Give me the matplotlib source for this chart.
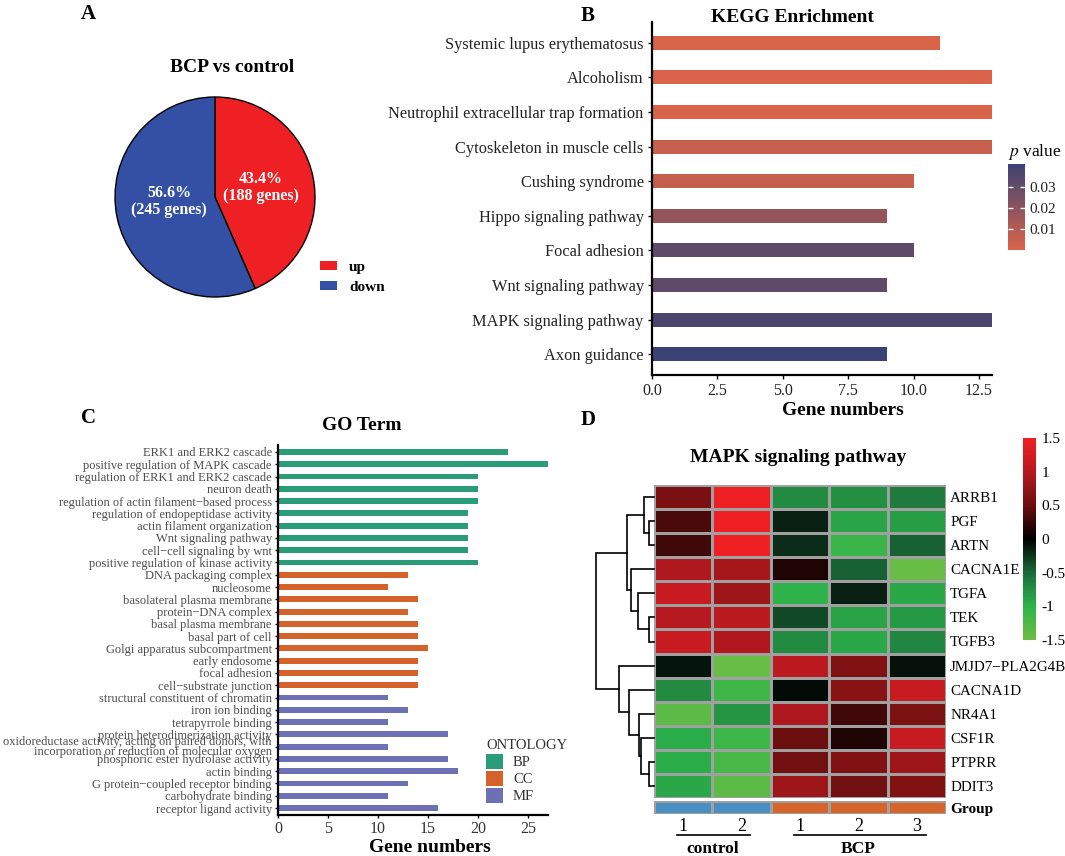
import numpy as np
import matplotlib
matplotlib.use('Agg')
import matplotlib.pyplot as plt
from matplotlib.colors import LinearSegmentedColormap, ListedColormap, Normalize
from matplotlib.patches import Patch
from matplotlib.transforms import blended_transform_factory
import matplotlib.cm as cm

plt.rcParams['font.family'] = ['Liberation Serif', 'DejaVu Serif']
plt.rcParams['mathtext.fontset'] = 'stix'

# ---------------- data ----------------
pie_labels = ['up', 'down']
pie_counts = [188, 245]
pie_colors = ['#EE2024', '#3450A4']

kegg_terms = ['Systemic lupus erythematosus', 'Alcoholism',
              'Neutrophil extracellular trap formation', 'Cytoskeleton in muscle cells',
              'Cushing syndrome', 'Hippo signaling pathway', 'Focal adhesion',
              'Wnt signaling pathway', 'MAPK signaling pathway', 'Axon guidance']
kegg_counts = [11, 13, 13, 13, 10, 9, 10, 9, 13, 9]
kegg_p = [0.0004, 0.0005, 0.0006, 0.005, 0.0055, 0.018, 0.031, 0.031, 0.036, 0.0405]

go_terms = ['ERK1 and ERK2 cascade', 'positive regulation of MAPK cascade',
            'regulation of ERK1 and ERK2 cascade', 'neuron death',
            'regulation of actin filament\u2212based process',
            'regulation of endopeptidase activity', 'actin filament organization',
            'Wnt signaling pathway', 'cell\u2212cell signaling by wnt',
            'positive regulation of kinase activity',
            'DNA packaging complex', 'nucleosome', 'basolateral plasma membrane',
            'protein\u2212DNA complex', 'basal plasma membrane', 'basal part of cell',
            'Golgi apparatus subcompartment', 'early endosome', 'focal adhesion',
            'cell\u2212substrate junction',
            'structural constituent of chromatin', 'iron ion binding',
            'tetrapyrrole binding', 'protein heterodimerization activity',
            'oxidoreductase activity, acting on paired donors, with\nincorporation or reduction of molecular oxygen',
            'phosphoric ester hydrolase activity', 'actin binding',
            'G protein\u2212coupled receptor binding', 'carbohydrate binding',
            'receptor ligand activity']
go_counts = [23, 27, 20, 20, 20, 19, 19, 19, 19, 20,
             13, 11, 14, 13, 14, 14, 15, 14, 14, 14,
             11, 13, 11, 17, 11, 17, 18, 13, 11, 16]
go_ont = ['BP'] * 10 + ['CC'] * 10 + ['MF'] * 10
ont_names = ['BP', 'CC', 'MF']
ont_colors = ['#2A9D78', '#D5622A', '#6E70B5']

genes = ['ARRB1', 'PGF', 'ARTN', 'CACNA1E', 'TGFA', 'TEK', 'TGFB3',
         'JMJD7\u2212PLA2G4B', 'CACNA1D', 'NR4A1', 'CSF1R', 'PTPRR', 'DDIT3']
sample_ids = ['1', '2', '1', '2', '3']
sample_group = ['control', 'control', 'BCP', 'BCP', 'BCP']
group_names = ['control', 'BCP']
group_colors = ['#4A8FC1', '#D6652B']
expr = np.array([
    [0.60, 1.50, -0.72, -0.75, -0.60],
    [0.35, 1.50, -0.15, -0.90, -0.85],
    [0.30, 1.50, -0.20, -1.10, -0.45],
    [0.95, 0.90, 0.15, -0.45, -1.45],
    [1.15, 0.85, -1.00, -0.15, -0.92],
    [1.00, 1.05, -0.35, -0.88, -0.82],
    [1.15, 0.95, -0.72, -0.92, -0.68],
    [-0.10, -1.45, 1.05, 0.65, -0.08],
    [-0.72, -1.15, -0.05, 0.70, 1.15],
    [-1.35, -0.78, 0.95, 0.30, 0.62],
    [-0.95, -1.12, 0.50, 0.15, 1.15],
    [-0.95, -1.20, 0.55, 0.65, 0.85],
    [-0.92, -1.35, 0.85, 0.55, 0.65],
])
# row dendrogram linkage (leaves 0..12 in display order, new clusters 13..)
linkage = [
    (1, 2, 0.94), (0, 13, 1.9), (5, 6, 0.94), (4, 15, 3.0), (3, 16, 4.3),
    (14, 17, 5.1), (11, 12, 0.94), (10, 19, 2.4), (9, 20, 2.8), (8, 21, 4.7),
    (7, 22, 6.6), (18, 23, 10.9),
]

# ---------------- figure ----------------
W, H = 1065, 856
fig = plt.figure(figsize=(W / 100, H / 100), dpi=100)


def add_ax(l, t, r, b):
    return fig.add_axes([l / W, 1 - b / H, (r - l) / W, (b - t) / H])


def ftext(x, y, s, **kw):
    kw.setdefault('ha', 'center')
    kw.setdefault('va', 'center')
    return fig.text(x / W, 1 - y / H, s, **kw)


# panel letters
for letter, (x, y) in zip('ABCD', [(88, 14), (588, 16), (88, 418), (588, 420)]):
    ftext(x, y, letter, fontsize=15, fontweight='bold')

# ---------------- A: pie ----------------
axA = add_ax(113, 95, 317, 299)
total = sum(pie_counts)
wedges, _, autotexts = axA.pie(
    pie_counts, colors=pie_colors, startangle=90, counterclock=False,
    autopct=lambda p: f'{p:.1f}%\n({int(round(p * total / 100))} genes)',
    pctdistance=0.47,
    wedgeprops=dict(edgecolor='black', linewidth=1.0),
    textprops=dict(color='white', fontweight='bold', fontsize=11.5, linespacing=1.05))
# nudge the 'down' label slightly upward as in the reference
xd, yd = autotexts[1].get_position()
autotexts[1].set_position((xd, yd + 0.05))
axA.set_xlim(-1.02, 1.02)
axA.set_ylim(-1.02, 1.02)
axA.set_aspect('equal')
ftext(232, 67, 'BCP vs control', fontsize=14, fontweight='bold')
fig.legend(handles=[Patch(facecolor=c, edgecolor='none', label=l) for l, c in zip(pie_labels, pie_colors)],
           loc='upper left', bbox_to_anchor=(320 / W, 1 - 261 / H), frameon=False,
           handlelength=1.1, handleheight=0.55, handletextpad=0.8, labelspacing=0.45,
           borderpad=0, borderaxespad=0, prop=dict(weight='bold', size=11))

# ---------------- B: KEGG ----------------
axB = add_ax(652, 22, 992, 375)
cmapB = LinearSegmentedColormap.from_list('kegg', ['#DA6449', '#3B4274'])
normB = Normalize(vmin=min(kegg_p), vmax=max(kegg_p))
yB = np.arange(len(kegg_terms))
axB.barh(yB, kegg_counts, height=0.4, color=cmapB(normB(np.array(kegg_p))))
axB.set_ylim(len(kegg_terms) - 0.4, -0.6)
axB.set_xlim(0, 13)
axB.set_yticks(yB)
axB.set_yticklabels(kegg_terms, fontsize=11.8, color='#222222')
axB.set_xticks(np.arange(0, 13, 2.5))
axB.set_xticklabels([f'{v:.1f}' for v in np.arange(0, 13, 2.5)], fontsize=11.5, color='#222222')
axB.tick_params(axis='both', length=3, width=1, pad=3)
for s in ['top', 'right']:
    axB.spines[s].set_visible(False)
for s in ['left', 'bottom']:
    axB.spines[s].set_linewidth(1.6)
ftext(792, 18, 'KEGG Enrichment', fontsize=14, fontweight='bold')
ftext(843, 410, 'Gene numbers', fontsize=14, fontweight='bold')

caxB = add_ax(1008, 164, 1025, 250)
cbB = fig.colorbar(cm.ScalarMappable(norm=normB, cmap=cmapB), cax=caxB)
cbB.set_ticks([0.01, 0.02, 0.03])
cbB.set_ticklabels(['0.01', '0.02', '0.03'])
cbB.outline.set_visible(False)
caxB.yaxis.set_ticks_position('both')
caxB.tick_params(length=3.5, width=1, direction='in', color='white', labelsize=11, pad=3,
                 labelcolor='#222222')
ftext(1008, 152, '$p$ value', fontsize=12.5, ha='left')

# ---------------- C: GO ----------------
axC = add_ax(278, 445, 548, 815)
yC = np.arange(len(go_terms))
cmap_ont = dict(zip(ont_names, ont_colors))
axC.barh(yC, go_counts, height=0.48, color=[cmap_ont[o] for o in go_ont])
axC.set_ylim(len(go_terms) - 0.43, -0.57)
axC.set_xlim(0, 27)
axC.set_yticks(yC)
axC.set_yticklabels(go_terms, fontsize=9, color='#4D4D4D', linespacing=0.78)
axC.set_xticks(np.arange(0, 26, 5))
axC.set_xticklabels([str(v) for v in range(0, 26, 5)], fontsize=11.5, color='#333333')
axC.tick_params(axis='both', length=2.5, width=1, pad=2)
for s in ['top', 'right']:
    axC.spines[s].set_visible(False)
for s in ['left', 'bottom']:
    axC.spines[s].set_linewidth(1.6)
ftext(362, 425, 'GO Term', fontsize=14, fontweight='bold')
ftext(430, 847, 'Gene numbers', fontsize=14, fontweight='bold')
legC = fig.legend(handles=[Patch(facecolor=c, edgecolor='none', label=l) for l, c in zip(ont_names, ont_colors)],
                  title='ONTOLOGY', loc='upper left', bbox_to_anchor=(486 / W, 1 - 739 / H),
                  frameon=False, fontsize=10.5, title_fontsize=10.5,
                  handlelength=1.15, handleheight=1.2, labelspacing=0.12, handletextpad=0.7,
                  borderpad=0, borderaxespad=0)
legC._legend_box.align = 'left'
for t in legC.get_texts():
    t.set_color('#333333')
legC.get_title().set_color('#333333')

# ---------------- D: heatmap ----------------
cmapD = LinearSegmentedColormap.from_list('hm', [
    (0.0, '#6DBE45'), (1 / 6, '#2DB34A'), (2 / 6, '#1A6B3A'), (0.5, '#000000'),
    (4 / 6, '#6B0E0E'), (5 / 6, '#B5191F'), (1.0, '#EE2024')])
normD = Normalize(vmin=-1.5, vmax=1.5)

axD = add_ax(654, 485, 946, 798)
axD.pcolormesh(expr, cmap=cmapD, norm=normD, edgecolors='#A0A0A0', linewidth=1.0)
axD.set_ylim(len(genes), 0)
axD.set_xlim(0, expr.shape[1])
axD.set_xticks([])
axD.yaxis.tick_right()
axD.set_yticks(np.arange(len(genes)) + 0.5)
axD.set_yticklabels(genes, fontsize=10.8)
axD.tick_params(length=0, pad=3)
for s in axD.spines.values():
    s.set_visible(False)
ftext(798, 458, 'MAPK signaling pathway', fontsize=14, fontweight='bold')

axG = add_ax(654, 801, 946, 814)
gcodes = np.array([[group_names.index(g) for g in sample_group]])
axG.pcolormesh(gcodes, cmap=ListedColormap(group_colors), vmin=-0.5, vmax=1.5,
               edgecolors='#A0A0A0', linewidth=1.0)
axG.set_xlim(0, expr.shape[1])
axG.set_ylim(1, 0)
axG.yaxis.tick_right()
axG.set_yticks([0.5])
axG.set_yticklabels(['Group'], fontsize=11, fontweight='bold')
axG.set_xticks(np.arange(len(sample_ids)) + 0.5)
axG.set_xticklabels(sample_ids, fontsize=13)
axG.tick_params(length=0, pad=3)
for s in axG.spines.values():
    s.set_visible(False)
trans = blended_transform_factory(axG.transData, fig.transFigure)
for g in group_names:
    idx = [i for i, s in enumerate(sample_group) if s == g]
    axG.plot([min(idx) + 0.4, max(idx) + 0.65], [1 - 835 / H] * 2, transform=trans,
             color='black', lw=1.2, clip_on=False)
    axG.text((min(idx) + max(idx) + 1) / 2, 1 - 849 / H, g, transform=trans,
             ha='center', va='center', fontsize=12.5, fontweight='bold')

# dendrogram
axT = add_ax(590, 485, 654, 798)
n = len(genes)
pos = {i: (0.0, i + 0.5) for i in range(n)}
for k, (a, b, h) in enumerate(linkage):
    xa, ya = pos[a]
    xb, yb = pos[b]
    axT.plot([xa, h, h, xb], [ya, ya, yb, yb], color='black', lw=1.2,
             solid_joinstyle='miter', clip_on=False)
    pos[n + k] = (h, (ya + yb) / 2)
axT.set_xlim(12, 0)
axT.set_ylim(n, 0)
axT.axis('off')

caxD = add_ax(1023, 438, 1036, 640)
cbD = fig.colorbar(cm.ScalarMappable(norm=normD, cmap=cmapD), cax=caxD)
ticksD = [-1.5, -1, -0.5, 0, 0.5, 1, 1.5]
cbD.set_ticks(ticksD)
cbD.set_ticklabels(['-1.5', '-1', '-0.5', '0', '0.5', '1', '1.5'])
cbD.outline.set_visible(False)
caxD.tick_params(length=0, labelsize=11, pad=4)

fig.savefig('out.png', dpi=100)
